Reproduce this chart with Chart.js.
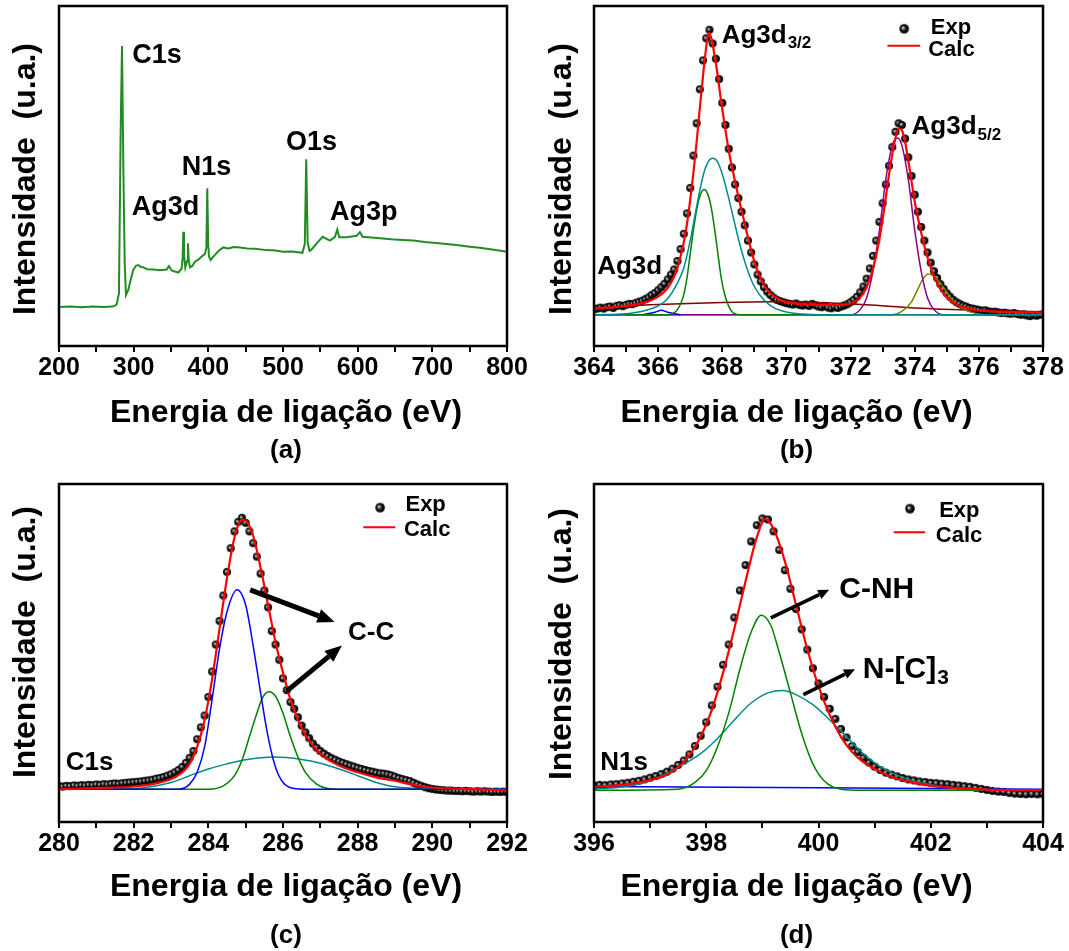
<!DOCTYPE html>
<html>
<head>
<meta charset="utf-8">
<script src="https://cdn.jsdelivr.net/npm/chart.js@4.4.1/dist/chart.umd.min.js"></script>
<style>
  body { margin:0; background:#fff; width:1069px; height:951px; position:relative; overflow:hidden; }
  canvas { position:absolute; }
</style>
</head>
<body>
<canvas id="pa" width="534" height="475" style="left:0;top:0"></canvas>
<canvas id="pb" width="535" height="475" style="left:534px;top:0"></canvas>
<canvas id="pc" width="534" height="476" style="left:0;top:475px"></canvas>
<canvas id="pd" width="535" height="476" style="left:534px;top:475px"></canvas>
<script>
const FONT = "'Liberation Sans', Arial, sans-serif";

// ---- (a) survey spectrum ----
const surveyEnergy = [200, 215, 230, 245, 260, 272, 277, 280.3, 282.6, 284.4, 286.1, 288, 289.7, 292.8, 296, 299.5, 303, 306.2, 309.5, 312.9,
  318, 326.3, 335, 344.2, 347.3, 350.9, 355, 359.8, 364.3, 365.6, 366.5, 367.4, 369.1, 371.5, 372.7, 373.8, 375.4, 378.5, 382.1, 386.5,
  391.1, 395.5, 397.4, 398.6, 399.8, 400.9, 403.1, 405.5, 408.9, 414, 420, 426.7, 434, 442.4, 452, 462, 478.1, 490, 500, 512,
  522.7, 526, 529.2, 531.1, 533, 535.5, 538.4, 545.1, 553.1, 562.9, 569.6, 572.7, 575.3, 585.2, 598.6, 603, 606.6, 618, 629.8, 645,
  660, 674.4, 690, 705, 719.1, 735, 750, 763.7, 780, 800];
const surveyCounts = [11.5, 11.6, 11.4, 11.6, 11.5, 11.6, 12.1, 15.5, 63.5, 88.2, 53.7, 24.3, 15.0, 16.5, 19.5, 22.4, 23.6, 23.8, 23.3, 23.1,
  22.6, 22.5, 22.3, 22.5, 23.5, 22.2, 21.9, 21.6, 22.8, 26.0, 33.6, 27.0, 23.1, 25.0, 30.2, 25.0, 23.1, 23.5, 24.8, 25.4,
  26.3, 27.1, 29.0, 46.4, 30.0, 26.3, 25.3, 26.0, 26.8, 28.0, 29.0, 28.7, 29.1, 29.0, 28.7, 28.6, 28.2, 28.1, 27.7, 27.8,
  27.5, 27.4, 30.0, 54.9, 30.5, 28.0, 28.4, 30.2, 32.1, 31.0, 32.1, 34.3, 32.0, 32.0, 32.4, 33.5, 32.1, 31.9, 31.7, 31.4,
  31.2, 31.0, 30.6, 30.3, 30.0, 29.6, 29.2, 28.9, 28.4, 27.7];

// ---- (b) Ag3d, experimental points every 0.1 eV from 364.0 ----
const agExp = [
  10.8, 11.0, 11.3, 11.0, 11.4, 11.6, 11.2, 11.8, 12.0, 11.7,
  12.1, 12.4, 12.3, 12.7, 13.0, 13.3, 13.8, 14.3, 15.0, 15.6,
  16.4, 17.3, 18.3, 19.6, 21.0, 22.5, 25.0, 28.5, 33.0, 39.0,
  46.5, 56.0, 65.5, 75.5, 84.0, 90.5, 93.0, 89.0, 84.5, 78.5,
  71.5, 65.0, 58.0, 52.5, 47.5, 43.5, 39.5, 35.5, 31.0, 27.5,
  24.0, 21.0, 19.0, 17.3, 16.0, 15.0, 14.2, 13.6, 13.2, 12.9,
  12.6, 12.4, 12.2, 12.5, 12.1, 11.9, 12.2, 11.8, 12.4, 12.0,
  11.6, 11.4, 11.8, 11.3, 11.1, 11.5, 11.2, 11.6, 11.9, 12.3,
  12.9, 13.6, 14.5, 15.8, 17.5, 19.8, 22.8, 26.5, 31.0, 36.5,
  42.0, 47.5, 53.0, 58.5, 63.0, 65.5, 65.0, 61.0, 55.5, 50.0,
  44.5, 39.5, 35.0, 31.0, 27.5, 24.5, 22.0, 20.0, 18.2, 16.8,
  15.5, 14.5, 13.6, 12.9, 12.4, 11.9, 11.6, 11.2, 11.0, 10.8,
  10.6, 10.4, 10.5, 10.2, 10.0, 10.1, 9.9, 9.7, 9.8, 9.6,
  9.5, 9.7, 9.4, 9.2, 9.3, 9.0, 8.8, 9.1, 8.9, 9.2,
  9.4];
const agCalcE = [364, 364.5, 365, 365.5, 365.8, 366, 366.2, 366.4, 366.6, 366.8, 366.9, 367, 367.1, 367.2, 367.3, 367.4, 367.5, 367.58, 367.66, 367.75,
  367.85, 367.95, 368.05, 368.2, 368.35, 368.5, 368.65, 368.8, 368.95, 369.1, 369.3, 369.5, 369.8, 370.2, 371, 371.8, 372.1, 372.3, 372.5, 372.7,
  372.9, 373.05, 373.2, 373.35, 373.5, 373.6, 373.7, 373.8, 373.9, 374, 374.15, 374.3, 374.45, 374.6, 374.8, 375, 375.3, 375.7, 376.2, 377, 378];
const agCalcV = [11.0, 11.3, 11.8, 12.6, 13.5, 14.5, 16.0, 18.5, 23.0, 30.5, 36.0, 43.0, 51.0, 60.0, 70.0, 79.5, 88.0, 92.0, 90.5, 86.0,
  80.0, 73.0, 66.5, 57.5, 50.5, 44.0, 38.0, 32.0, 26.5, 22.0, 18.0, 15.5, 13.6, 12.6, 12.1, 12.1, 12.9, 14.3, 17.3, 22.8,
  31.5, 40.5, 50.5, 59.0, 64.0, 63.5, 60.0, 54.5, 48.5, 42.5, 35.5, 29.5, 24.5, 20.5, 16.8, 14.3, 12.2, 10.9, 10.3, 10.0, 9.8];
const agCyanE = [364, 365, 365.5, 366, 366.3, 366.6, 366.8, 367, 367.2, 367.4, 367.55, 367.7, 367.85, 368, 368.2, 368.4, 368.6, 368.8, 369, 369.3, 369.6, 370, 370.5, 371, 378];
const agCyanV = [9.2, 9.5, 10.2, 11.8, 14.0, 18.5, 23.0, 31.0, 41.0, 50.0, 54.0, 55.2, 54.2, 50.5, 43.5, 35.5, 28.0, 22.0, 17.5, 13.5, 11.3, 10.0, 9.4, 9.2, 9.2];
const agGreenE = [364, 366.3, 366.6, 366.8, 366.9, 367, 367.1, 367.2, 367.3, 367.43, 367.55, 367.65, 367.75, 367.85, 367.95, 368.05, 368.2, 368.35, 368.6, 378];
const agGreenV = [9.2, 9.2, 10.7, 15.1, 20.1, 27.1, 34.1, 40.0, 44.0, 46.0, 44.6, 41.0, 35.1, 28.1, 21.1, 16.1, 11.7, 9.7, 9.2, 9.2];
const agBlueE = [365.5, 365.9, 366.1, 366.3, 366.7];
const agBlueV = [9.2, 9.9, 10.5, 9.9, 9.2];
const agBrownE = [364, 366, 368, 369.5, 371, 372.5, 374, 376, 378];
const agBrownV = [11.2, 12.2, 12.8, 13.0, 12.8, 12.1, 11.2, 10.5, 10.1];
const agPurpleE = [364, 372, 372.3, 372.5, 372.7, 372.9, 373.1, 373.3, 373.47, 373.6, 373.8, 374, 374.2, 374.4, 374.6, 374.9, 378];
const agPurpleV = [9.2, 9.2, 10.7, 14.1, 22.1, 34.1, 49.0, 59.0, 61.2, 59.0, 49.0, 34.1, 22.1, 14.1, 10.7, 9.2, 9.2];
const agOliveE = [364, 373.3, 373.6, 373.9, 374.1, 374.25, 374.42, 374.6, 374.8, 375, 375.2, 375.5, 375.9, 376.3, 378];
const agOliveV = [9.2, 9.2, 10.2, 13.0, 16.8, 19.6, 21.2, 20.5, 18.5, 15.8, 13.3, 11.0, 9.6, 9.2, 9.2];

// ---- (c) C1s, experimental points every 0.1 eV from 280.0 ----
const cExp = [
  10.6, 10.5, 10.7, 10.6, 10.8, 10.7, 10.9, 10.8, 11.0, 10.9,
  11.1, 11.0, 11.2, 11.1, 11.3, 11.4, 11.3, 11.5, 11.6, 11.7,
  11.8, 11.9, 12.0, 12.2, 12.3, 12.5, 12.8, 13.0, 13.3, 13.7,
  14.1, 14.7, 15.4, 16.3, 17.5, 19.0, 21.0, 24.5, 28.0, 31.5,
  37.0, 44.5, 52.5, 59.5, 67.0, 74.0, 81.0, 86.0, 88.8, 90.0,
  88.5, 86.0, 82.5, 78.5, 73.5, 68.5, 63.5, 56.5, 52.5, 48.0,
  42.5, 39.0, 35.5, 33.5, 31.0, 28.5, 26.5, 24.8, 23.2, 22.0,
  21.0, 20.2, 19.5, 18.9, 18.4, 17.9, 17.5, 17.1, 16.7, 16.4,
  16.0, 15.7, 15.4, 15.1, 14.9, 14.6, 14.4, 14.3, 14.1, 13.8,
  13.4, 13.0, 12.7, 12.4, 12.1, 11.6, 11.1, 10.7, 10.3, 10.0,
  9.8, 9.6, 9.5, 9.4, 9.3, 9.3, 9.2, 9.2, 9.1, 9.2,
  9.1, 9.0, 9.1, 9.0, 9.1, 9.0, 8.9, 9.0, 8.9, 9.0,
  8.9];
const cCalcE = [280, 281, 282, 282.5, 283, 283.3, 283.5, 283.7, 283.9, 284.1, 284.3, 284.5, 284.7, 284.9, 285, 285.2, 285.4, 285.6, 285.8, 286,
  286.2, 286.4, 286.6, 286.8, 287, 287.5, 288, 288.5, 289, 289.5, 290, 291, 292];
const cCalcV = [9.7, 10.0, 10.5, 11.2, 12.7, 14.7, 17.2, 22.2, 30.2, 42.2, 57.2, 72.2, 84.2, 89.4, 89.2, 84.7, 75.2, 64.2, 53.2, 44.2,
  36.2, 30.2, 25.7, 22.7, 20.2, 16.7, 14.7, 13.2, 12.2, 11.0, 10.2, 9.7, 9.4];
const cBlueE = [280, 283.2, 283.5, 283.7, 283.9, 284.1, 284.3, 284.5, 284.77, 285, 285.2, 285.4, 285.6, 285.8, 286, 286.3, 286.6, 292];
const cBlueV = [9.7, 9.7, 11.2, 14.7, 22.2, 36.2, 51.2, 62.2, 68.7, 64.2, 52.2, 38.2, 25.2, 16.2, 11.7, 9.9, 9.7, 9.7];
const cGreenE = [280, 284, 284.4, 284.7, 284.9, 285.1, 285.3, 285.45, 285.62, 285.8, 286, 286.2, 286.4, 286.6, 286.9, 287.2, 287.6, 292];
const cGreenV = [9.7, 9.7, 10.7, 13.7, 18.2, 25.2, 32.2, 36.7, 38.5, 37.2, 32.2, 25.2, 19.2, 14.7, 11.2, 9.9, 9.7, 9.7];
const cTealE = [280, 282, 283, 283.5, 284, 284.5, 285, 285.75, 286.5, 287, 287.5, 288, 288.5, 289, 290, 292];
const cTealV = [9.7, 9.9, 11.7, 13.7, 15.7, 17.2, 18.4, 19.2, 18.5, 17.4, 15.7, 13.7, 11.7, 10.4, 9.8, 9.7];

// ---- (d) N1s, experimental points every 0.1 eV from 396.0 ----
const nExp = [
  10.8, 11.0, 10.9, 11.1, 11.2, 11.4, 11.6, 11.9, 12.2, 12.6,
  13.1, 13.6, 14.2, 14.9, 15.8, 16.9, 18.2, 20.0, 22.5, 25.5,
  29.5, 34.5, 40.0, 46.5, 52.5, 60.5, 68.5, 76.0, 83.0, 87.8,
  89.8, 89.5, 86.0, 80.5, 74.5, 69.0, 63.0, 57.0, 51.0, 45.5,
  41.0, 37.0, 33.5, 30.5, 27.5, 25.0, 22.5, 20.7, 19.0, 17.6,
  16.4, 15.4, 14.6, 14.0, 13.5, 13.0, 12.6, 12.3, 12.0, 11.8,
  11.6, 11.5, 11.3, 11.2, 11.0, 10.8, 10.6, 10.4, 10.1, 9.8,
  9.5, 9.2, 9.0, 8.9, 8.6, 8.4, 8.3, 8.2, 8.3, 8.2,
  8.3];
const nCalcE = [396, 396.5, 397, 397.3, 397.5, 397.7, 397.9, 398.1, 398.3, 398.5, 398.7, 398.9, 399.05, 399.2, 399.4, 399.6, 399.8, 400, 400.2, 400.4,
  400.6, 400.8, 401, 401.3, 401.6, 402, 402.5, 403, 404];
const nCalcV = [10.4, 11.0, 12.4, 14.0, 16.2, 19.7, 25.2, 33.2, 44.2, 57.2, 71.2, 84.2, 89.7, 86.7, 77.2, 64.2, 51.2, 40.2, 31.7, 25.2,
  20.7, 17.7, 15.7, 13.4, 12.0, 10.7, 10.0, 9.6, 9.4];
const nGreenE = [396, 397.5, 397.8, 398, 398.2, 398.4, 398.6, 398.8, 398.98, 399.15, 399.3, 399.5, 399.7, 399.9, 400.1, 400.4, 400.8, 404];
const nGreenV = [9.4, 9.7, 11.7, 15.2, 22.2, 32.2, 45.2, 56.2, 61.2, 58.2, 50.2, 38.2, 26.2, 17.2, 12.2, 9.7, 9.4, 9.4];
const nTealE = [396, 396.5, 397, 397.5, 397.9, 398.2, 398.5, 398.8, 399.1, 399.36, 399.6, 399.9, 400.2, 400.5, 400.8, 401.1, 401.5, 402, 402.5, 403, 404];
const nTealV = [9.7, 10.4, 12.2, 16.2, 20.2, 24.7, 30.2, 35.2, 38.2, 38.9, 37.7, 34.7, 30.2, 25.2, 20.2, 16.4, 13.2, 11.0, 10.0, 9.6, 9.4];
const nBlueE = [396, 404];
const nBlueV = [10.5, 9.7];

function pts(xs, ys) { return xs.map((x, i) => ({ x: x, y: ys[i] })); }
function grid(start, ys) { return ys.map((y, i) => ({ x: +(start + i * 0.1).toFixed(1), y: y })); }

// shaded ball used for the experimental points
function sphere(r) {
  const c = document.createElement('canvas');
  const s = Math.ceil(r * 2 + 2);
  c.width = c.height = s;
  const g = c.getContext('2d');
  const m = s / 2;
  const grad = g.createRadialGradient(m - r * 0.3, m - r * 0.25, 0, m, m, r);
  grad.addColorStop(0, '#ffffff');
  grad.addColorStop(0.22, '#8a8a8a');
  grad.addColorStop(0.55, '#151515');
  grad.addColorStop(1, '#000000');
  g.fillStyle = grad;
  g.beginPath(); g.arc(m, m, r, 0, Math.PI * 2); g.fill();
  return c;
}
const ball = sphere(4);
const bigBall = sphere(4.8);

function line(data, color, width, order) {
  return { data: data, borderColor: color, borderWidth: width, pointRadius: 0, fill: false,
           cubicInterpolationMode: 'monotone', order: order };
}
function expSet(data) {
  return { data: data, showLine: false, pointStyle: ball, pointRadius: 4, order: 5 };
}

function text(ctx, s, x, y, size, sub, subSize) {
  ctx.font = 'bold ' + size + 'px ' + FONT;
  ctx.textAlign = 'left';
  ctx.textBaseline = 'alphabetic';
  const base = y + size * 0.36;
  ctx.fillText(s, x, base);
  if (sub) {
    const w = ctx.measureText(s).width;
    ctx.font = 'bold ' + subSize + 'px ' + FONT;
    ctx.fillText(sub, x + w + 1, base + size * 0.2);
  }
}
function arrow(ctx, x1, y1, x2, y2, w, head, hw) {
  const a = Math.atan2(y2 - y1, x2 - x1);
  const bx = x2 - head * Math.cos(a), by = y2 - head * Math.sin(a);
  ctx.lineWidth = w;
  ctx.beginPath(); ctx.moveTo(x1, y1); ctx.lineTo(bx, by); ctx.stroke();
  ctx.beginPath();
  ctx.moveTo(x2, y2);
  ctx.lineTo(bx + hw / 2 * Math.sin(a), by - hw / 2 * Math.cos(a));
  ctx.lineTo(bx - hw / 2 * Math.sin(a), by + hw / 2 * Math.cos(a));
  ctx.closePath(); ctx.fill();
}

// frame, titles, peak labels, arrows and legend
const deco = {
  id: 'deco',
  afterDraw(chart, args, o) {
    const ctx = chart.ctx, a = chart.chartArea, sx = chart.scales.x, sy = chart.scales.y;
    const px = v => sx.getPixelForValue(v), py = v => sy.getPixelForValue(v);
    ctx.save();
    ctx.strokeStyle = '#000'; ctx.fillStyle = '#000';
    ctx.lineWidth = 2.5;
    ctx.strokeRect(a.left, a.top, a.right - a.left, a.bottom - a.top);

    ctx.font = 'bold 32px ' + FONT;
    ctx.textAlign = 'center'; ctx.textBaseline = 'alphabetic';
    ctx.fillText('Energia de ligação (eV)', (a.left + a.right) / 2 + o.titleDx, a.bottom + o.titleDy + 11);
    ctx.font = 'bold 26px ' + FONT;
    ctx.fillText(o.tag, (a.left + a.right) / 2 + o.titleDx, a.bottom + o.tagDy + 9);

    ctx.save();
    ctx.translate(o.yTitleX, (a.top + a.bottom) / 2 + o.yTitleDy);
    ctx.rotate(-Math.PI / 2);
    ctx.font = 'bold 32px ' + FONT;
    ctx.fillText('Intensidade  (u.a.)', 0, 11);
    ctx.restore();

    (o.labels || []).forEach(l => text(ctx, l.t, px(l.x), py(l.y), l.size, l.sub, l.subSize));
    (o.arrows || []).forEach(r => arrow(ctx, px(r[0]), py(r[1]), px(r[2]), py(r[3]), r[4], r[5], r[6]));

    if (o.legend) {
      const L = o.legend;
      ctx.drawImage(bigBall, px(L.ball[0]) - bigBall.width / 2, py(L.ball[1]) - bigBall.height / 2);
      text(ctx, 'Exp', px(L.exp[0]), py(L.exp[1]), 22);
      ctx.strokeStyle = '#ff0000'; ctx.lineWidth = 2;
      ctx.beginPath(); ctx.moveTo(px(L.line[0]), py(L.line[2])); ctx.lineTo(px(L.line[1]), py(L.line[2])); ctx.stroke();
      text(ctx, 'Calc', px(L.calc[0]), py(L.calc[1]), 22);
    }
    ctx.restore();
  }
};

function panel(id, o) {
  return new Chart(document.getElementById(id), {
    type: 'line',
    data: { datasets: o.datasets },
    options: {
      responsive: false, animation: false, devicePixelRatio: 1,
      layout: { padding: o.pad },
      plugins: { legend: { display: false }, tooltip: { enabled: false }, deco: o.deco },
      scales: {
        x: {
          type: 'linear', min: o.xmin, max: o.xmax,
          afterFit: s => { s.height = 40; },
          border: { display: false },
          grid: { display: true, drawOnChartArea: false, drawTicks: true, tickLength: 6, color: '#000', lineWidth: 2 },
          ticks: {
            stepSize: o.minor, autoSkip: false, maxRotation: 0, padding: 1, color: '#000',
            font: { family: FONT, size: 25, weight: 'bold' },
            callback: v => Math.abs(v / o.major - Math.round(v / o.major)) < 1e-6 ? v : ''
          }
        },
        y: { display: false, min: 0, max: 100 }
      }
    },
    plugins: [deco]
  });
}

panel('pa', {
  xmin: 200, xmax: 800, minor: 50, major: 100,
  pad: { left: 59, right: 27, top: 6, bottom: 89 },
  datasets: [{ data: pts(surveyEnergy, surveyCounts), borderColor: '#228b22', borderWidth: 2, pointRadius: 0, tension: 0 }],
  deco: {
    titleDx: 3, titleDy: 65, tagDy: 103, yTitleX: 24, yTitleDy: 3, tag: '(a)',
    labels: [
      { t: 'C1s', x: 298.2, y: 86.1, size: 27 },
      { t: 'Ag3d', x: 297.3, y: 41.5, size: 27 },
      { t: 'N1s', x: 364.3, y: 53.2, size: 27 },
      { t: 'O1s', x: 504, y: 60.6, size: 27 },
      { t: 'Ag3p', x: 562.9, y: 40, size: 27 }
    ]
  }
});

panel('pb', {
  xmin: 364, xmax: 378, minor: 1, major: 2,
  pad: { left: 60, right: 26, top: 6, bottom: 89 },
  datasets: [
    line(pts(agCalcE, agCalcV), '#ff0000', 2.2, 0),
    line(pts(agCyanE, agCyanV), '#008b8b', 1.5, 1),
    line(pts(agGreenE, agGreenV), '#008000', 1.5, 1),
    line(pts(agBlueE, agBlueV), '#0000ff', 1.5, 1),
    line(pts(agPurpleE, agPurpleV), '#8b008b', 1.5, 1),
    line(pts(agOliveE, agOliveV), '#808000', 1.5, 1),
    line(pts(agBrownE, agBrownV), '#800000', 1.5, 1),
    expSet(grid(364, agExp))
  ],
  deco: {
    titleDx: -22, titleDy: 65, tagDy: 103, yTitleX: 26, yTitleDy: 3, tag: '(b)',
    labels: [
      { t: 'Ag3d', sub: '3/2', subSize: 17, x: 367.98, y: 92, size: 26 },
      { t: 'Ag3d', sub: '5/2', subSize: 17, x: 373.9, y: 65, size: 26 },
      { t: 'Ag3d', x: 364.1, y: 24, size: 26 }
    ],
    legend: { ball: [373.67, 93.3], exp: [374.5, 94], line: [373.15, 374.17, 88.3], calc: [374.42, 87.5] }
  }
});

panel('pc', {
  xmin: 280, xmax: 292, minor: 1, major: 2,
  pad: { left: 59, right: 27, top: 9, bottom: 89 },
  datasets: [
    line(pts(cCalcE, cCalcV), '#ff0000', 2.2, 0),
    line(pts(cBlueE, cBlueV), '#0000ff', 1.5, 1),
    line(pts(cGreenE, cGreenV), '#008000', 1.5, 1),
    line(pts(cTealE, cTealV), '#008b8b', 1.5, 1),
    expSet(grid(280, cExp))
  ],
  deco: {
    titleDx: 3, titleDy: 63, tagDy: 112, yTitleX: 24, yTitleDy: -11, tag: '(c)',
    labels: [
      { t: 'C1s', x: 280.18, y: 18.2, size: 26 },
      { t: 'C-C', x: 287.74, y: 56.7, size: 26 }
    ],
    arrows: [[285.12, 68.7, 287.38, 59.2, 5, 17, 14], [286.1, 38.7, 287.58, 52.2, 5, 17, 14]],
    legend: { ball: [288.6, 93], exp: [289.28, 94.5], line: [288.15, 289.01, 87.2], calc: [289.24, 87] }
  }
});

panel('pd', {
  xmin: 396, xmax: 404, minor: 1, major: 2,
  pad: { left: 60, right: 26, top: 9, bottom: 89 },
  datasets: [
    line(pts(nCalcE, nCalcV), '#ff0000', 2.2, 0),
    line(pts(nGreenE, nGreenV), '#008000', 1.5, 1),
    line(pts(nTealE, nTealV), '#008b8b', 1.5, 1),
    line(pts(nBlueE, nBlueV), '#0000ff', 1.5, 1),
    expSet(grid(396, nExp))
  ],
  deco: {
    titleDx: -22, titleDy: 63, tagDy: 112, yTitleX: 26, yTitleDy: -9, tag: '(d)',
    labels: [
      { t: 'N1s', x: 396.11, y: 18.2, size: 26 },
      { t: 'C-NH', x: 400.37, y: 69.4, size: 30 },
      { t: 'N-[C]', sub: '3', subSize: 21, x: 400.79, y: 45.7, size: 30 }
    ],
    arrows: [[399.15, 60.4, 400.19, 68.7, 3.5, 11, 10], [399.73, 37.7, 400.65, 45.2, 3.5, 11, 10]],
    legend: { ball: [401.63, 92.7], exp: [402.15, 92.5], line: [401.34, 401.9, 85.7], calc: [402.09, 85.2] }
  }
});
</script>
</body>
</html>
